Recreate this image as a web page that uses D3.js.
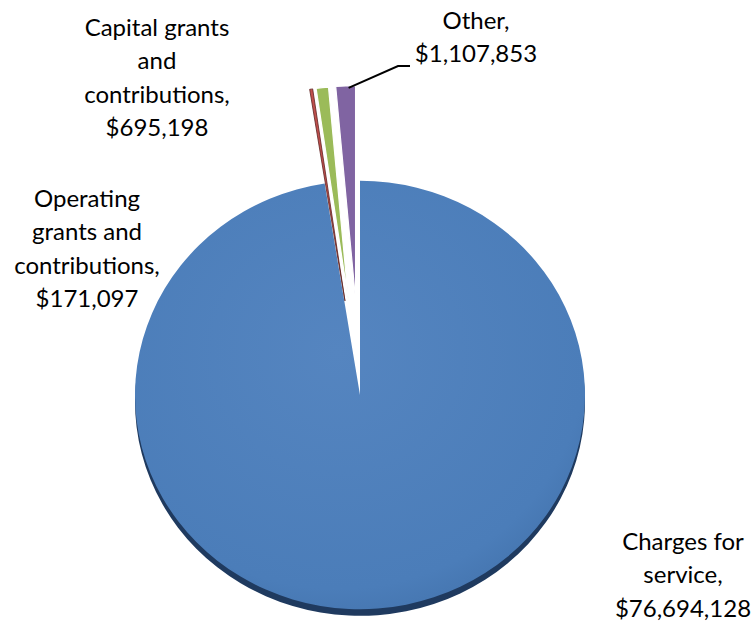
<!DOCTYPE html>
<html>
<head>
<meta charset="utf-8">
<script src="https://cdn.jsdelivr.net/npm/d3@7"></script>
<style>
  body { margin: 0; background: #fff; }
  text { font-family: Lato, "Open Sans", sans-serif; fill: #000; }
</style>
</head>
<body>
<div id="pie-chart"></div>
<script>
const width = 755;
const height = 628;

const categories = ['Charges for service', 'Operating grants and contributions', 'Capital grants and contributions', 'Other'];
const values = [76694128, 171097, 695198, 1107853];
const colors = ['#4F81BD', '#C0504D', '#9BBB59', '#8064A2'];
const labelLines = [
  ['Charges for', 'service,', '$76,694,128'],
  ['Operating', 'grants and', 'contributions,', '$171,097'],
  ['Capital grants', 'and', 'contributions,', '$695,198'],
  ['Other,', '$1,107,853']
];

const cx = 360, cy = 395;
const r = 225;
const squash = 0.952;
const explode = 100;

const svg = d3.select('#pie-chart')
  .append('svg')
  .attr('width', width)
  .attr('height', height);

const defs = svg.append('defs');
const grad = defs.append('radialGradient')
  .attr('id', 'blueShade')
  .attr('cx', '45%').attr('cy', '40%').attr('r', '65%');
grad.append('stop').attr('offset', '0%').attr('stop-color', '#5585C0');
grad.append('stop').attr('offset', '85%').attr('stop-color', '#4B7DB9');
grad.append('stop').attr('offset', '100%').attr('stop-color', '#4474AE');

const data = categories.map((c, i) => ({ name: c, value: values[i], color: colors[i], lines: labelLines[i] }));

const pie = d3.pie().sort(null).value(d => d.value);
const arcs = pie(data);

const arc = d3.arc().innerRadius(0).outerRadius(r);

const g = svg.append('g')
  .attr('transform', `translate(${cx},${cy}) scale(1,${squash})`);

// dark rim under the main slice (3D look)
g.append('path')
  .attr('d', arc(arcs[0]))
  .attr('transform', 'translate(0,7)')
  .attr('fill', '#1F3A5F');

g.selectAll('path.slice')
  .data(arcs)
  .join('path')
    .attr('class', 'slice')
    .attr('d', arc)
    .attr('transform', (d, i) => {
      if (i === 0) return null;
      const a = (d.startAngle + d.endAngle) / 2;
      return `translate(${Math.sin(a) * explode},${-Math.cos(a) * explode})`;
    })
    .attr('fill', (d, i) => i === 0 ? 'url(#blueShade)' : d.data.color)
    .attr('stroke', (d, i) => i === 1 ? '#5a1f1d' : '#fff')
    .attr('stroke-width', (d, i) => i === 0 ? 0 : (i === 1 ? 0.8 : 1.2));

// labels
const labelPos = [
  { x: 683, y: 550 },
  { x: 87, y: 207 },
  { x: 157, y: 36 },
  { x: 476, y: 29 }
];

data.forEach((d, i) => {
  const t = svg.append('text')
    .attr('text-anchor', 'middle')
    .attr('font-size', '24px');
  d.lines.forEach((line, j) => {
    t.append('tspan')
      .attr('x', labelPos[i].x)
      .attr('y', labelPos[i].y + j * 33.3)
      .text(line);
  });
});

// leader line for "Other"
const other = arcs[3];
const oa = other.startAngle * 0.35 + other.endAngle * 0.65;
const ox = cx + Math.sin(oa) * r + Math.sin((other.startAngle + other.endAngle) / 2) * explode;
const oy = cy + (-Math.cos(oa) * r - Math.cos((other.startAngle + other.endAngle) / 2) * explode) * squash;
svg.append('path')
  .attr('d', d3.line()([[ox, oy + 2], [398, 66], [410, 66]]))
  .attr('fill', 'none')
  .attr('stroke', '#000')
  .attr('stroke-width', 2);
</script>
</body>
</html>
